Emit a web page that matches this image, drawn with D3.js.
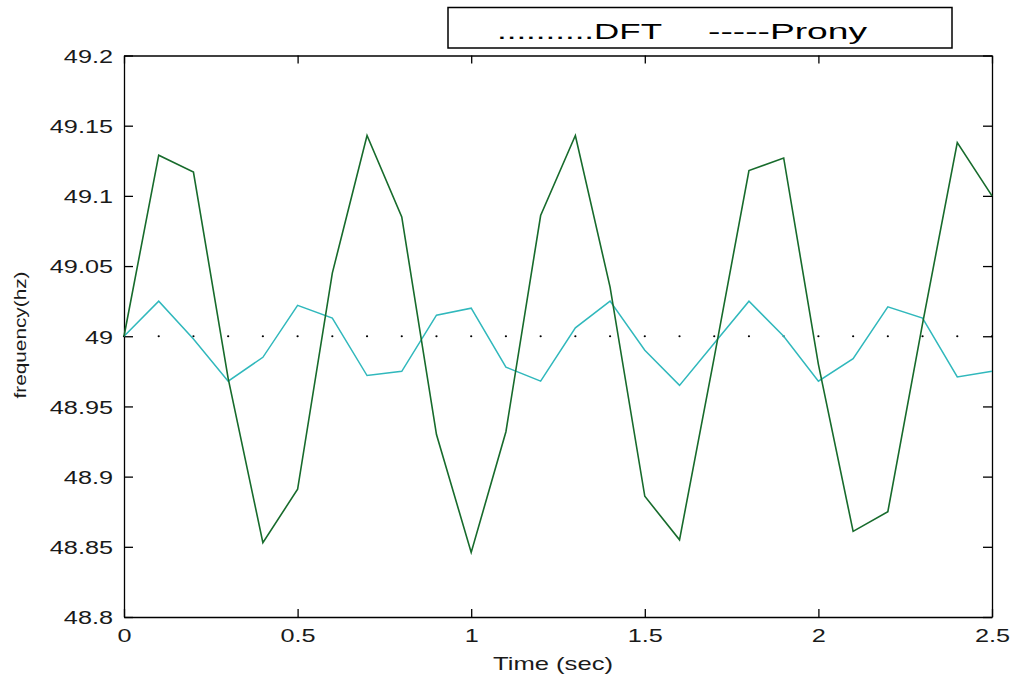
<!DOCTYPE html>
<html>
<head>
<meta charset="utf-8">
<script src="https://cdn.jsdelivr.net/npm/d3@7/dist/d3.min.js"></script>
<style>
  html, body { margin: 0; padding: 0; background: #fff; }
  svg { display: block; }
</style>
</head>
<body>
<svg id="chart" width="1014" height="679"></svg>
<script>
// ---------- data ----------
const timeValues = [0, 0.1, 0.2, 0.3, 0.4, 0.5, 0.6, 0.7, 0.8, 0.9, 1.0, 1.1, 1.2,
  1.3, 1.4, 1.5, 1.6, 1.7, 1.8, 1.9, 2.0, 2.1, 2.2, 2.3, 2.4, 2.5];
const greenSeries = [49.000, 49.129, 49.117, 48.970, 48.853, 48.891, 49.045, 49.143,
  49.085, 48.930, 48.846, 48.932, 49.086, 49.143, 49.035, 48.886, 48.855, 48.985,
  49.118, 49.127, 48.980, 48.861, 48.875, 49.009, 49.138, 49.100];
const cyanSeries = [49.000, 49.025, 48.998, 48.968, 48.985, 49.022, 49.013, 48.972,
  48.975, 49.015, 49.020, 48.978, 48.968, 49.006, 49.025, 48.990, 48.965, 48.995,
  49.025, 49.000, 48.968, 48.984, 49.021, 49.013, 48.971, 48.975];
const dottedSeries = [49, 49, 49, 49, 49, 49, 49, 49, 49, 49, 49, 49, 49,
  49, 49, 49, 49, 49, 49, 49, 49, 49, 49, 49, 49, 49];
const xTickValues = [0, 0.5, 1, 1.5, 2, 2.5];
const xTickLabels = ["0", "0.5", "1", "1.5", "2", "2.5"];
const yTickValues = [48.8, 48.85, 48.9, 48.95, 49, 49.05, 49.1, 49.15, 49.2];
const yTickLabels = ["48.8", "48.85", "48.9", "48.95", "49", "49.05", "49.1", "49.15", "49.2"];
const legendTexts = ["..........DFT", "-----Prony"];
const xAxisTitle = "Time (sec)";
const yAxisTitle = "frequency(hz)";

// ---------- layout ----------
const svg = d3.select("#chart");
const W = 1014, H = 679;
const plot = { left: 124, right: 992, top: 55.5, bottom: 617 };
const FONT = "'Liberation Sans', Arial, sans-serif";
const STRETCH = 1.33;

svg.append("rect").attr("width", W).attr("height", H).attr("fill", "#fff");

const x = d3.scaleLinear().domain([0, 2.5]).range([plot.left, plot.right]);
const y = d3.scaleLinear().domain([48.8, 49.2]).range([plot.bottom, plot.top]);

// ---------- axes (MATLAB style: inward ticks on all four sides) ----------
function styleAxis(g) {
  g.select(".domain").attr("stroke", "#000").attr("stroke-width", 1.3);
  g.selectAll(".tick line").attr("stroke", "#000").attr("stroke-width", 1.3);
}

const gLeft = svg.append("g")
  .attr("transform", `translate(${plot.left},0)`)
  .call(d3.axisLeft(y).tickValues(yTickValues)
    .tickFormat((d, i) => yTickLabels[i])
    .tickSizeInner(-9).tickSizeOuter(0).tickPadding(11));
styleAxis(gLeft);
gLeft.selectAll(".tick text")
  .attr("font-family", FONT).attr("font-size", 19).attr("fill", "#1a1a1a")
  .attr("x", -11 / STRETCH).attr("dy", "0.36em")
  .attr("transform", `scale(${STRETCH},1)`);

const gBottom = svg.append("g")
  .attr("transform", `translate(0,${plot.bottom})`)
  .call(d3.axisBottom(x).tickValues(xTickValues)
    .tickFormat((d, i) => xTickLabels[i])
    .tickSizeInner(-8).tickSizeOuter(0).tickPadding(12));
styleAxis(gBottom);
gBottom.selectAll(".tick text")
  .attr("font-family", FONT).attr("font-size", 19).attr("fill", "#1a1a1a")
  .attr("x", function () { return 0; })
  .attr("transform", `scale(${STRETCH},1)`);
// scale on x: translate is on tick group, so x=0 stays centered

const gTop = svg.append("g")
  .attr("transform", `translate(0,${plot.top})`)
  .call(d3.axisTop(x).tickValues(xTickValues).tickFormat("")
    .tickSizeInner(-8).tickSizeOuter(0));
styleAxis(gTop);

const gRight = svg.append("g")
  .attr("transform", `translate(${plot.right},0)`)
  .call(d3.axisRight(y).tickValues(yTickValues).tickFormat("")
    .tickSizeInner(-9).tickSizeOuter(0));
styleAxis(gRight);

// ---------- series ----------
const line = d3.line().x((d, i) => x(timeValues[i])).y(d => y(d));

svg.append("g").selectAll("circle")
  .data(dottedSeries).join("circle")
  .attr("cx", (d, i) => x(timeValues[i])).attr("cy", d => y(d))
  .attr("r", 1.1).attr("fill", "#000");

svg.append("path").datum(cyanSeries)
  .attr("d", line).attr("fill", "none")
  .attr("stroke", "#30b8bc").attr("stroke-width", 1.5)
  .attr("stroke-linejoin", "miter");

svg.append("path").datum(greenSeries)
  .attr("d", line).attr("fill", "none")
  .attr("stroke", "#176b2c").attr("stroke-width", 1.6)
  .attr("stroke-linejoin", "miter");

// ---------- titles ----------
svg.append("text")
  .attr("x", 493).attr("y", 670)
  .attr("font-family", FONT).attr("font-size", 19).attr("fill", "#1a1a1a")
  .attr("textLength", 120).attr("lengthAdjust", "spacingAndGlyphs")
  .text(xAxisTitle);

svg.append("text")
  .attr("transform", "translate(25.5,335) rotate(-90)")
  .attr("text-anchor", "middle")
  .attr("font-family", FONT).attr("font-size", 17).attr("fill", "#1a1a1a")
  .attr("textLength", 127).attr("lengthAdjust", "spacingAndGlyphs")
  .text(yAxisTitle);

// ---------- legend box ----------
svg.append("rect")
  .attr("x", 448).attr("y", 7.5).attr("width", 504).attr("height", 40.5)
  .attr("fill", "#fff").attr("stroke", "#000").attr("stroke-width", 1.5);

svg.append("text")
  .attr("x", 497).attr("y", 38.5)
  .attr("font-family", FONT).attr("font-size", 22).attr("fill", "#000")
  .attr("textLength", 165).attr("lengthAdjust", "spacingAndGlyphs")
  .text(legendTexts[0]);

svg.append("text")
  .attr("x", 708).attr("y", 38.5)
  .attr("font-family", FONT).attr("font-size", 22).attr("fill", "#000")
  .attr("textLength", 159).attr("lengthAdjust", "spacingAndGlyphs")
  .text(legendTexts[1]);
</script>
</body>
</html>
